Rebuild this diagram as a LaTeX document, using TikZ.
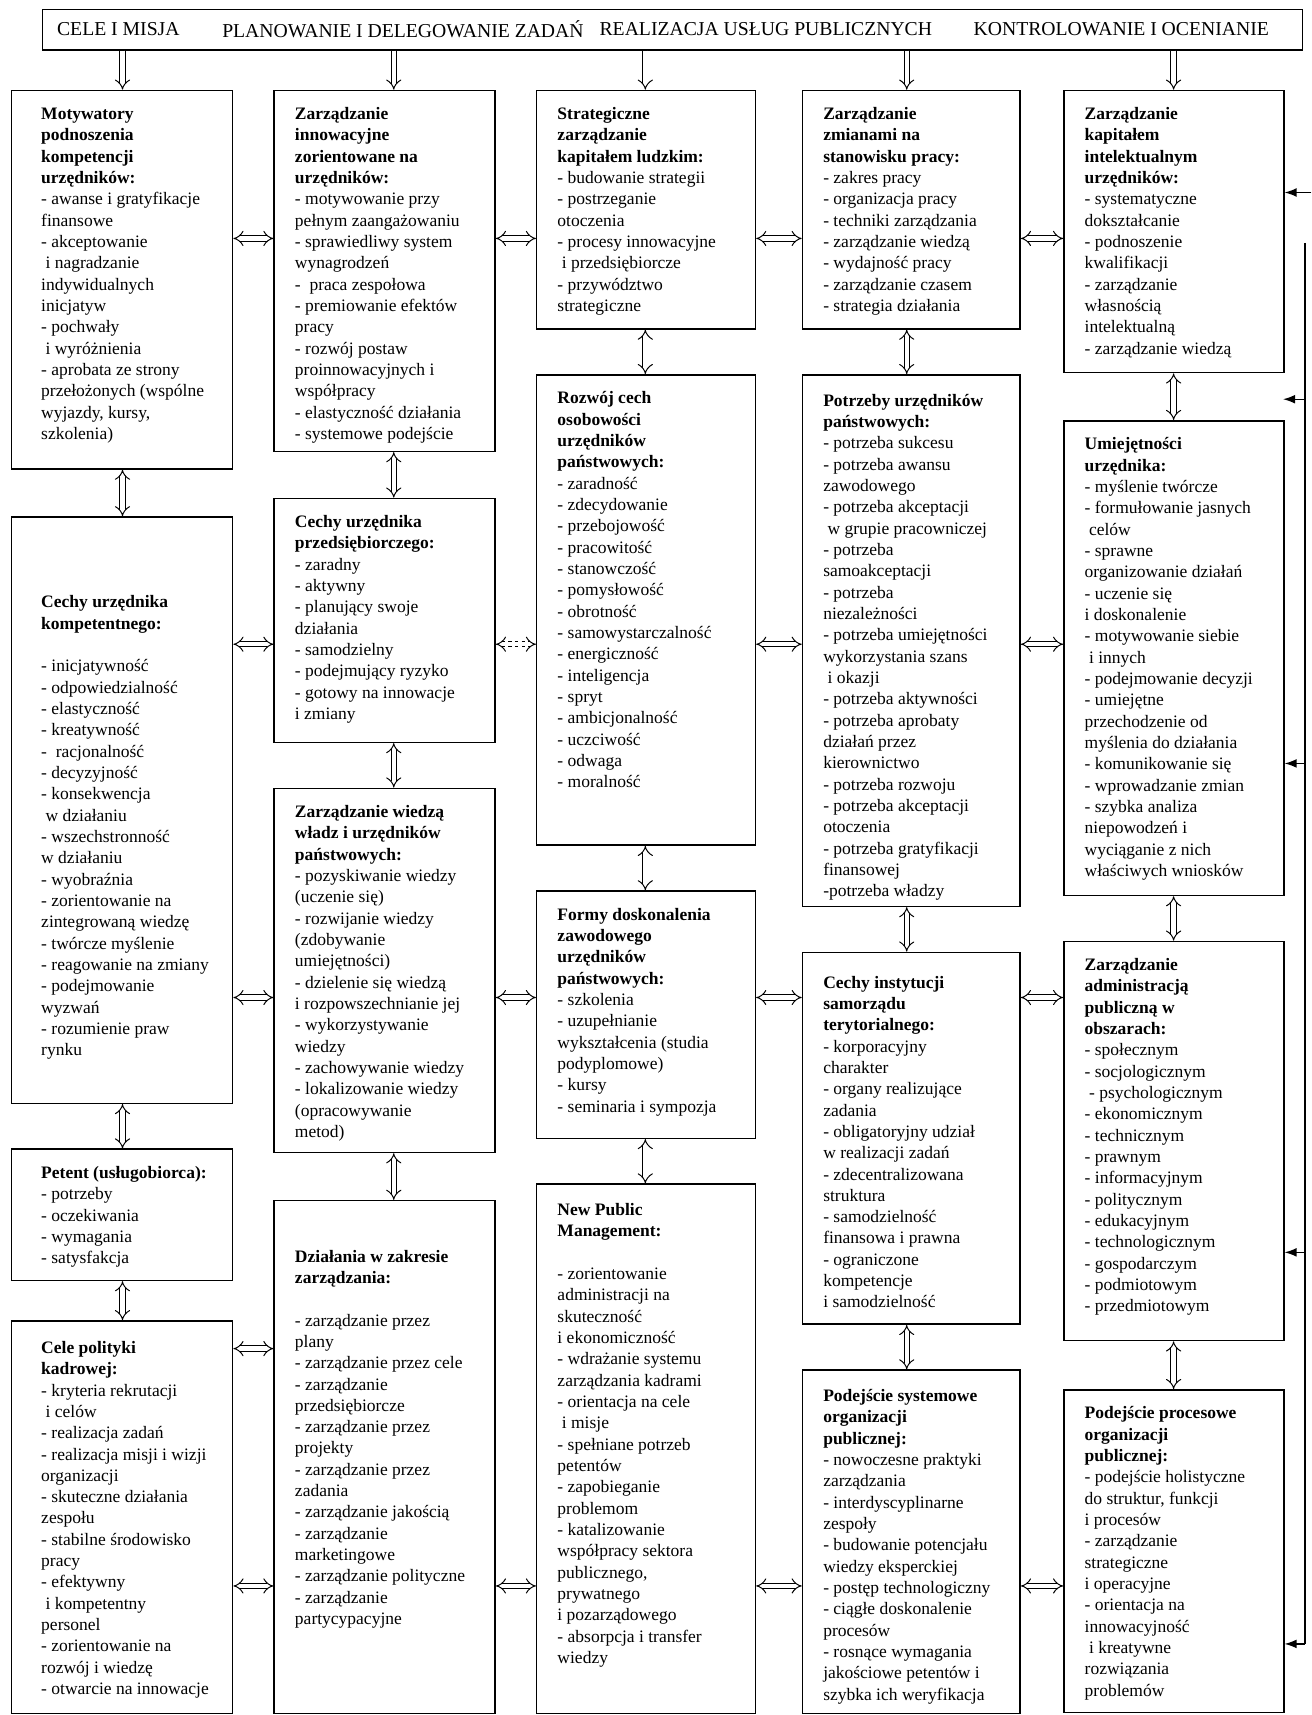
\documentclass[tikz,border=0pt]{standalone}
\usepackage{fontspec}
\setmainfont{Liberation Serif}
\usetikzlibrary{arrows,arrows.meta,calc}
\tikzset{
    box/.style = {draw, rectangle, line width=1.4pt, anchor=north west, inner sep=0pt},
    bar/.style = {draw, rectangle, line width=1.4pt, anchor=north west,
        minimum width=1152pt, minimum height=37pt, inner sep=0pt},
    ttl/.style = {anchor=west, inner sep=0pt, font=\fontsize{18}{20}\selectfont},
    dbl/.style = {double, double distance=4pt, line width=0.9pt,
        {Implies[length=8pt, width=17pt]}-{Implies[length=8pt, width=17pt]}},
    dn/.style = {double, double distance=4pt, line width=0.9pt,
        -{Implies[length=8pt, width=17pt]}},
    back/.style = {draw, line width=1.3pt, -{Latex[length=11pt, width=8pt]}}
}
\newlength{\padx}\setlength{\padx}{19pt}
\newlength{\pady}\setlength{\pady}{13pt}
% box text: [extra top space]{width}{height}{lines}
\newcommand{\cell}[4][0pt]{\parbox[c][#3pt][t]{#2pt}{\fontsize{16}{19.5}\selectfont
    \leftskip=\padx\rightskip=0pt plus 1fil\parindent=0pt
    \vspace*{\dimexpr\pady+#1\relax}\strut#4}}
\newcommand{\hd}[1]{\textbf{#1}}
\newcommand{\ind}{\hspace*{4pt}}

\begin{document}
\begin{tikzpicture}[x=1pt, y=-1pt, >=latex']
\useasboundingbox (0,0) rectangle (1199,1568);

% top bar
\node [bar] (bar) at (38,8) {};
\node [ttl] (t1) at (52,27) {CELE I MISJA};
\node [ttl] (t2) at (203,27) {PLANOWANIE I DELEGOWANIE ZADAŃ};
\node [ttl] (t3) at (548,27) {REALIZACJA USŁUG PUBLICZNYCH};
\node [ttl] (t4) at (890,27) {KONTROLOWANIE I OCENIANIE};

% column 1
\setlength{\padx}{27pt}
\node [box] (b11) at (10,82) {\cell{202}{346}{\hd{Motywatory\\podnoszenia\\kompetencji\\urzędników:}\\
- awanse i gratyfikacje\\finansowe\\- akceptowanie\\\ind i nagradzanie\\indywidualnych\\inicjatyw\\
- pochwały\\\ind i wyróżnienia\\- aprobata ze strony\\przełożonych (wspólne\\wyjazdy, kursy,\\szkolenia)}};
\node [box] (b12) at (10,472) {\cell{202}{536}{\\[37pt]\hd{Cechy urzędnika\\kompetentnego:}\\[\baselineskip]
- inicjatywność\\- odpowiedzialność\\- elastyczność\\- kreatywność\\-\ \ racjonalność\\- decyzyjność\\
- konsekwencja\\\ind w działaniu\\- wszechstronność\\w działaniu\\- wyobraźnia\\- zorientowanie na\\
zintegrowaną wiedzę\\- twórcze myślenie\\- reagowanie na zmiany\\- podejmowanie\\wyzwań\\
- rozumienie praw\\rynku}};
\node [box] (b13) at (10,1050) {\cell{202}{120}{\hd{Petent (usługobiorca):}\\
- potrzeby\\- oczekiwania\\- wymagania\\- satysfakcja}};
\node [box] (b14) at (10,1207) {\cell[3pt]{202}{359}{\hd{Cele polityki\\kadrowej:}\\
- kryteria rekrutacji\\\ind i celów\\- realizacja zadań\\- realizacja misji i wizji\\organizacji\\
- skuteczne działania\\zespołu\\- stabilne środowisko\\pracy\\- efektywny\\\ind i kompetentny\\personel\\
- zorientowanie na\\rozwój i wiedzę\\- otwarcie na innowacje}};
\setlength{\padx}{19pt}

% column 2
\node [box] (b21) at (250,82) {\cell{202}{330}{\hd{Zarządzanie\\innowacyjne\\zorientowane na\\urzędników:}\\
- motywowanie przy\\pełnym zaangażowaniu\\- sprawiedliwy system\\wynagrodzeń\\-\ \ praca zespołowa\\
- premiowanie efektów\\pracy\\- rozwój postaw\\proinnowacyjnych i\\współpracy\\
- elastyczność działania\\- systemowe podejście}};
\node [box] (b22) at (250,455) {\cell{202}{223}{\hd{Cechy urzędnika\\przedsiębiorczego:}\\
- zaradny\\- aktywny\\- planujący swoje\\działania\\- samodzielny\\- podejmujący ryzyko\\
- gotowy na innowacje\\i zmiany}};
\node [box] (b23) at (250,720) {\cell{202}{333}{\hd{Zarządzanie wiedzą\\władz i urzędników\\państwowych:}\\
- pozyskiwanie wiedzy\\(uczenie się)\\- rozwijanie wiedzy\\(zdobywanie\\umiejętności)\\
- dzielenie się wiedzą\\i rozpowszechnianie jej\\- wykorzystywanie\\wiedzy\\- zachowywanie wiedzy\\
- lokalizowanie wiedzy\\(opracowywanie\\metod)}};
\node [box] (b24) at (250,1097) {\cell{202}{469}{\\[10pt]\hd{Działania w zakresie\\zarządzania:}\\[\baselineskip]
- zarządzanie przez\\plany\\- zarządzanie przez cele\\- zarządzanie\\przedsiębiorcze\\
- zarządzanie przez\\projekty\\- zarządzanie przez\\zadania\\- zarządzanie jakością\\
- zarządzanie\\marketingowe\\- zarządzanie polityczne\\- zarządzanie\\partycypacyjne}};

% column 3
\node [box] (b31) at (490,82) {\cell{200}{218}{\hd{Strategiczne\\zarządzanie\\kapitałem ludzkim:}\\
- budowanie strategii\\- postrzeganie\\otoczenia\\- procesy innowacyjne\\\ind i przedsiębiorcze\\
- przywództwo\\strategiczne}};
\node [box] (b32) at (490,342) {\cell{200}{430}{\hd{Rozwój cech\\osobowości\\urzędników\\państwowych:}\\
- zaradność\\- zdecydowanie\\- przebojowość\\- pracowitość\\- stanowczość\\- pomysłowość\\
- obrotność\\- samowystarczalność\\- energiczność\\- inteligencja\\- spryt\\- ambicjonalność\\
- uczciwość\\- odwaga\\- moralność}};
\node [box] (b33) at (490,814) {\cell{200}{226}{\hd{Formy doskonalenia\\zawodowego\\urzędników\\państwowych:}\\
- szkolenia\\- uzupełnianie\\wykształcenia (studia\\podyplomowe)\\- kursy\\- seminaria i sympozja}};
\node [box] (b34) at (490,1082) {\cell[2pt]{200}{484}{\hd{New Public\\Management:}\\[\baselineskip]
- zorientowanie\\administracji na\\skuteczność\\i ekonomiczność\\- wdrażanie systemu\\
zarządzania kadrami\\- orientacja na cele\\\ind i misje\\- spełniane potrzeb\\petentów\\
- zapobieganie\\problemom\\- katalizowanie\\współpracy sektora\\publicznego,\\prywatnego\\
i pozarządowego\\- absorpcja i transfer\\wiedzy}};

% column 4
\node [box] (b41) at (733,82) {\cell{199}{218}{\hd{Zarządzanie\\zmianami na\\stanowisku pracy:}\\
- zakres pracy\\- organizacja pracy\\- techniki zarządzania\\- zarządzanie wiedzą\\
- wydajność pracy\\- zarządzanie czasem\\- strategia działania}};
\node [box] (b42) at (733,342) {\cell[2pt]{199}{486}{\hd{Potrzeby urzędników\\państwowych:}\\
- potrzeba sukcesu\\- potrzeba awansu\\zawodowego\\- potrzeba akceptacji\\\ind w grupie pracowniczej\\
- potrzeba\\samoakceptacji\\- potrzeba\\niezależności\\- potrzeba umiejętności\\
wykorzystania szans\\\ind i okazji\\- potrzeba aktywności\\- potrzeba aprobaty\\działań przez\\
kierownictwo\\- potrzeba rozwoju\\- potrzeba akceptacji\\otoczenia\\- potrzeba gratyfikacji\\
finansowej\\-potrzeba władzy}};
\node [box] (b43) at (733,870) {\cell[6pt]{199}{340}{\hd{Cechy instytucji\\samorządu\\terytorialnego:}\\
- korporacyjny\\charakter\\- organy realizujące\\zadania\\- obligatoryjny udział\\
w realizacji zadań\\- zdecentralizowana\\struktura\\- samodzielność\\finansowa i prawna\\
- ograniczone\\kompetencje\\i samodzielność}};
\node [box] (b44) at (733,1252) {\cell[2pt]{199}{314}{\hd{Podejście systemowe\\organizacji\\publicznej:}\\
- nowoczesne praktyki\\zarządzania\\- interdyscyplinarne\\zespoły\\- budowanie potencjału\\
wiedzy eksperckiej\\- postęp technologiczny\\- ciągłe doskonalenie\\procesów\\
- rosnące wymagania\\jakościowe petentów i\\szybka ich weryfikacja}};

% column 5
\node [box] (b51) at (972,82) {\cell{201}{258}{\hd{Zarządzanie\\kapitałem\\intelektualnym\\urzędników:}\\
- systematyczne\\dokształcanie\\- podnoszenie\\kwalifikacji\\- zarządzanie\\własnością\\
intelektualną\\- zarządzanie wiedzą}};
\node [box] (b52) at (972,384) {\cell{201}{434}{\hd{Umiejętności\\urzędnika:}\\
- myślenie twórcze\\- formułowanie jasnych\\\ind celów\\- sprawne\\organizowanie działań\\
- uczenie się\\i doskonalenie\\- motywowanie siebie\\\ind i innych\\- podejmowanie decyzji\\
- umiejętne\\przechodzenie od\\myślenia do działania\\- komunikowanie się\\
- wprowadzanie zmian\\- szybka analiza\\niepowodzeń i\\wyciąganie z nich\\właściwych wniosków}};
\node [box] (b53) at (972,860) {\cell{201}{365}{\hd{Zarządzanie\\administracją\\publiczną w\\obszarach:}\\
- społecznym\\- socjologicznym\\\ind - psychologicznym\\- ekonomicznym\\- technicznym\\- prawnym\\
- informacyjnym\\- politycznym\\- edukacyjnym\\- technologicznym\\- gospodarczym\\
- podmiotowym\\- przedmiotowym}};
\node [box] (b54) at (972,1270) {\cell{201}{295}{\hd{Podejście procesowe\\organizacji\\publicznej:}\\
- podejście holistyczne\\do struktur, funkcji\\i procesów\\- zarządzanie\\strategiczne\\
i operacyjne\\- orientacja na\\innowacyjność\\\ind i kreatywne\\rozwiązania\\problemów}};

% columns and rows of the connectors
\coordinate (c1) at (112,0);
\coordinate (c2) at (360,0);
\coordinate (c3) at (590,0);
\coordinate (c4) at (829,0);
\coordinate (c5) at (1073,0);
\coordinate (r1) at (0,218);
\coordinate (r2) at (0,589);
\coordinate (r3) at (0,912);
\coordinate (r4) at (0,1233);
\coordinate (r5) at (0,1450);

% from the bar down
\foreach \c/\b in {c1/b11, c2/b21, c3/b31, c4/b41, c5/b51}
    \draw [dn] (bar.south -| \c) -- (\b.north -| \c);

% vertical links
\foreach \c/\a/\b in {c1/b11/b12, c1/b12/b13, c1/b13/b14,
                      c2/b21/b22, c2/b22/b23, c2/b23/b24,
                      c3/b31/b32, c3/b32/b33, c3/b33/b34,
                      c4/b41/b42, c4/b42/b43, c4/b43/b44,
                      c5/b51/b52, c5/b52/b53, c5/b53/b54}
    \draw [dbl] (\a.south -| \c) -- (\b.north -| \c);

% horizontal links
\foreach \r/\a/\b in {r1/b11/b21, r1/b21/b31, r1/b31/b41, r1/b41/b51,
                      r2/b12/b22, r2/b32/b42, r2/b42/b52,
                      r3/b12/b23, r3/b23/b33, r3/b33/b43, r3/b43/b53,
                      r4/b14/b24,
                      r5/b14/b24, r5/b24/b34, r5/b34/b44, r5/b44/b54}
    \draw [dbl] (\a.east |- \r) -- (\b.west |- \r);
\draw [dbl, dashed] (b22.east |- r2) -- (b32.west |- r2);

% feedback line on the right
\coordinate (fin) at (1199,176);
\coordinate (ftop) at (1193,222);
\coordinate (fbot) at (1193,1503);
\coordinate (fgap) at (1173,365);
\coordinate (f3) at (1193,698);
\coordinate (f4) at (1193,1145);
\draw [back] (fin) -- (b51.east |- fin);
\draw [line width=1.3pt] (ftop) -- (fbot);
\draw [back] (ftop |- fgap) -- (fgap);
\draw [back] (f3) -- (b52.east |- f3);
\draw [back] (f4) -- (b53.east |- f4);
\draw [back] (fbot) -- (b54.east |- fbot);
\end{tikzpicture}
\end{document}
